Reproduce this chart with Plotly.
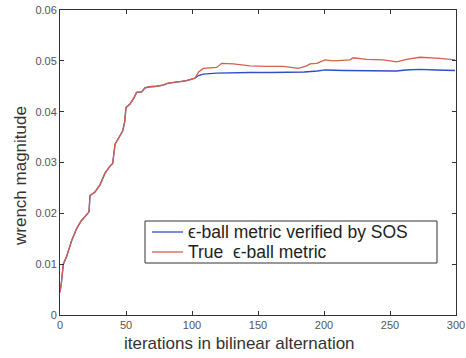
import plotly.graph_objects as go

# shared part (both metrics coincide up to ~iteration 100)
iters_shared = [0, 1, 2.5, 5, 8.8, 12.6, 16, 20.2, 22, 22.7, 26.5, 30.3, 34.1, 37.9, 39.9, 41.7,
                44, 47.5, 49, 50, 53, 56, 58, 61.9, 64.4, 68, 73.2, 78, 82, 86, 90.9, 95.9, 98.5, 102.3]
vals_shared = [0.0045, 0.0062, 0.0100, 0.0115, 0.0146, 0.0170, 0.0185, 0.0199, 0.0203, 0.0235, 0.0242,
               0.0256, 0.0279, 0.0293, 0.0298, 0.0336, 0.0347, 0.0362, 0.0380, 0.0408, 0.0415, 0.0427,
               0.0438, 0.0439, 0.0447, 0.0449, 0.0450, 0.0452, 0.0456, 0.0457, 0.0459, 0.0461, 0.0463, 0.0466]

# SOS-verified metric after divergence
iters_sos = [105, 108.6, 118.7, 130, 143.9, 160, 169.2, 185, 195, 200.8, 215, 230, 244.9, 255, 262, 272.7, 285, 299.2]
vals_sos = [0.0471, 0.0474, 0.0476, 0.0477, 0.0477, 0.0477, 0.0477, 0.0478, 0.0480, 0.0482, 0.0481,
            0.0481, 0.0481, 0.0480, 0.0482, 0.0483, 0.0482, 0.0481]

# true metric after divergence
iters_true = [105, 108.6, 118.7, 122.5, 131.3, 143.9, 156.6, 169.2, 180.6, 186.9, 189.4, 194.5, 200.8,
              207.1, 219.7, 222.2, 232.3, 244.9, 255, 262.6, 272.7, 287.9, 299.2]
vals_true = [0.0478, 0.0485, 0.0487, 0.0495, 0.0494, 0.0490, 0.0489, 0.0489, 0.0485, 0.0490, 0.0494,
             0.0495, 0.0502, 0.0500, 0.0502, 0.0506, 0.0503, 0.0502, 0.0498, 0.0503, 0.0507, 0.0505, 0.0502]

series_names = ["ϵ-ball metric verified by SOS", "True  ϵ-ball metric"]

y_ticks = [0, 0.01, 0.02, 0.03, 0.04, 0.05, 0.06]
y_tick_labels = ["0", "0.01", "0.02", "0.03", "0.04", "0.05", "0.06"]
x_ticks = [0, 50, 100, 150, 200, 250, 300]

blue = "#2f4fc4"
red = "#d4604a"
colors = [blue, red]

fig = go.Figure()
fig.add_trace(go.Scatter(x=iters_shared + iters_sos, y=vals_shared + vals_sos, mode="lines",
                         line=dict(color=blue, width=1.3), name=series_names[0], showlegend=False))
fig.add_trace(go.Scatter(x=iters_shared + iters_true, y=vals_shared + vals_true, mode="lines",
                         line=dict(color=red, width=1.3), name=series_names[1], showlegend=False))

axis_common = dict(showgrid=False, zeroline=False, showline=True, linecolor="#333", linewidth=1,
                   mirror="ticks", ticks="inside", ticklen=4, tickcolor="#333", automargin=False,
                   tickfont=dict(family="Liberation Sans, Arial", size=11, color="#555"))

# manual legend box (pixel layout converted to paper coords)
L, T, W, H = 60, 10, 396, 305
def px(x):
    return (x - L) / W
def py(y):
    return (T + H - y) / H

shapes = [dict(type="rect", xref="paper", yref="paper", x0=px(145), x1=px(437), y0=py(263), y1=py(221),
               line=dict(color="#333", width=1), fillcolor="white", layer="above")]
annotations = []
row_y = [232, 252]
for name, col, ry in zip(series_names, colors, row_y):
    shapes.append(dict(type="line", xref="paper", yref="paper", x0=px(152), x1=px(183), y0=py(ry), y1=py(ry),
                       line=dict(color=col, width=1.3), layer="above"))
    annotations.append(dict(text=name, xref="paper", yref="paper", x=px(186), y=py(ry),
                            xanchor="left", yanchor="middle", showarrow=False,
                            font=dict(size=17.5, color="#222")))

annotations += [
    dict(text="iterations in bilinear alternation", xref="paper", yref="paper",
         x=px(239), y=py(343), xanchor="center", yanchor="middle",
         showarrow=False, font=dict(size=17, color="#333")),
    dict(text="wrench magnitude", xref="paper", yref="paper", textangle=-90,
         x=px(20), y=py(176), xanchor="center", yanchor="middle",
         showarrow=False, font=dict(size=17, color="#333")),
]

fig.update_layout(
    width=466, height=358,
    margin=dict(l=L, r=466 - L - W, t=T, b=358 - T - H),
    paper_bgcolor="white", plot_bgcolor="white",
    font=dict(family="Liberation Sans, Arial", color="#333"),
    xaxis=dict(range=[0, 300], tickvals=x_ticks, **axis_common),
    yaxis=dict(range=[0, 0.06], tickvals=y_ticks, ticktext=y_tick_labels, **axis_common),
    showlegend=False,
    shapes=shapes,
    annotations=annotations,
)

fig.write_html("out.html", config={"displayModeBar": False},
               post_script="document.body.style.margin='0';document.body.style.overflow='hidden';")
